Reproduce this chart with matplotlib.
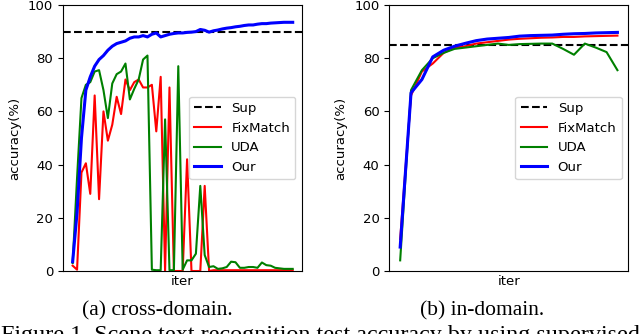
import matplotlib
matplotlib.use("Agg")
import matplotlib.pyplot as plt
import numpy as np

# cross-domain curves (51 evaluation points)
sup_cross = 90.0
fixmatch_cross = [2, 0.5, 37, 40.5, 29, 66, 27, 60, 49, 55,
                  65.5, 59, 72, 68, 71, 72, 69, 69, 70, 52.5,
                  73, 0, 69, 0, 0, 0, 42, 0, 0, 0,
                  32, 0, 0.3, 0.3, 0.3, 0.3, 0.3, 0.3, 0.3, 0.3,
                  0.3, 0.3, 0.3, 0.3, 0.3, 0.3, 0.3, 0.3, 0.3, 0.3, 0.3]
uda_cross = [3, 35, 65, 70, 71, 75, 75.5, 68, 57.5, 70.5,
             74, 75, 78, 64.5, 68.5, 72, 79.5, 81, 0.5, 0.3,
             0.3, 57, 0.3, 0.3, 77, 0.5, 4, 4, 6.5, 32,
             6, 1.5, 1.8, 0.8, 1, 1.5, 3.5, 3.3, 1.2, 1.2,
             1.5, 1.5, 1.2, 3.2, 2.2, 2, 1.2, 1, 0.8, 0.8, 0.8]
our_cross = [3.5, 22, 50, 68, 73, 77, 79.5, 81, 83, 84.5,
             85.5, 86, 86.5, 87.5, 88, 88, 88.5, 88, 89, 89.5,
             88, 88.5, 89, 89.3, 89.5, 89.5, 89.7, 89.8, 90, 90.8,
             90.5, 89.8, 90.3, 90.6, 91, 91.3, 91.5, 91.8, 92, 92.3,
             92.5, 92.5, 92.8, 93, 93, 93.2, 93.3, 93.4, 93.5, 93.5, 93.5]

# in-domain curves (21 evaluation points)
sup_in = 85.0
fixmatch_in = [12, 66, 75, 78, 82, 84, 84.5, 85.5, 86, 86.5,
               87, 87.3, 87.5, 87.7, 87.8, 88, 88, 88.2, 88.3, 88.4, 88.5]
uda_in = [4, 68, 75.5, 80, 82, 83.5, 84, 84.5, 85, 85.5,
          85, 85.3, 85.4, 85.5, 85.5, 83.5, 81.3, 85.5, 84, 82.3, 75.5]
our_in = [9, 67, 72, 80.5, 83, 84.5, 85.6, 86.6, 87.2, 87.5,
          87.8, 88.3, 88.5, 88.6, 88.7, 89, 89.2, 89.3, 89.5, 89.6, 89.7]

fig = plt.figure(figsize=(6.4, 3.34), dpi=100)
ax1 = fig.add_axes([0.0984, 0.1886, 0.3734, 0.7964])
ax2 = fig.add_axes([0.6083, 0.1886, 0.3734, 0.7964])


def dibujar(ax, sup, fix, uda, our):
    x = np.arange(len(fix))
    ax.axhline(sup, color="k", linestyle="--", linewidth=1.5, label="Sup")
    ax.plot(x, fix, color="r", linewidth=1.5, label="FixMatch")
    ax.plot(x, uda, color="g", linewidth=1.5, label="UDA")
    ax.plot(x, our, color="b", linewidth=2.2, label="Our")
    ax.set_ylim(0, 100)
    ax.set_xticks([])
    ax.tick_params(axis="y", labelsize=9.5)
    ax.set_xlabel("iter", fontsize=9.5, labelpad=3)
    ax.set_ylabel("accuracy(%)", fontsize=9.5, labelpad=5)
    ax.legend(loc="center right", fontsize=9.5)


dibujar(ax1, sup_cross, fixmatch_cross, uda_cross, our_cross)
n = len(fixmatch_cross) - 1
ax1.set_xlim(-0.044 * n, 1.042 * n)
dibujar(ax2, sup_in, fixmatch_in, uda_in, our_in)

serif = ["Liberation Serif", "DejaVu Serif"]
fig.text(157 / 640, 0.054, "(a) cross-domain.", ha="center", va="baseline",
         fontsize=15.5, family=serif)
fig.text(482 / 640, 0.054, "(b) in-domain.", ha="center", va="baseline",
         fontsize=15.5, family=serif)
# pie de figura, cortado en el borde inferior como en el original
fig.text(0.002, -0.021, "Figure 1. Scene text recognition test accuracy by using supervised",
         ha="left", va="baseline", fontsize=17.4, family=serif)

fig.savefig("out.png", dpi=100)
